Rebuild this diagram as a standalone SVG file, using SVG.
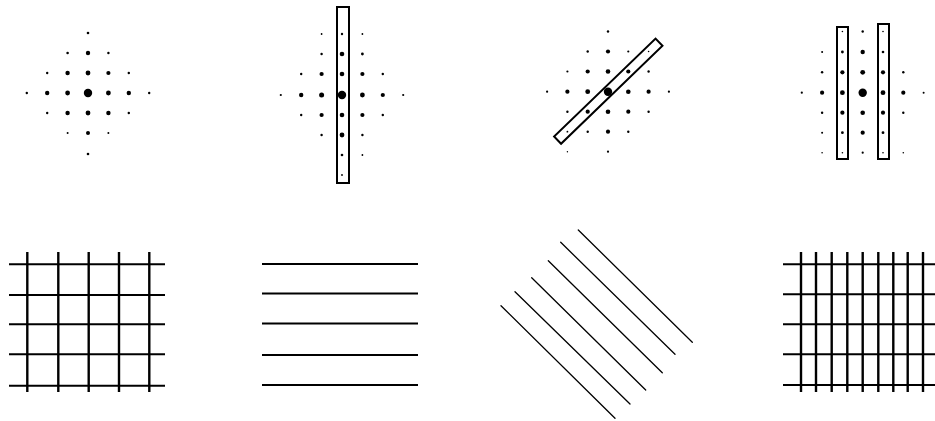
<svg xmlns="http://www.w3.org/2000/svg" width="935" height="421" viewBox="0 0 935 421">
<style>
circle{fill:#000}
.box{fill:none;stroke:#000;stroke-width:2}
.grid line{stroke:#000;stroke-width:2;stroke-linecap:butt}
.grid .v{stroke-width:2.4}
.thin line{stroke:#000;stroke-width:1.8}
.diag line{stroke:#000;stroke-width:1.3;stroke-linecap:round}
</style>
<rect width="935" height="421" fill="#fff"/>
<g id="lattice1">
<circle cx="88" cy="33" r="1.3"/>
<circle cx="67.6" cy="53" r="1.3"/><circle cx="88" cy="53" r="2.2"/><circle cx="108.4" cy="53" r="1.2"/>
<circle cx="47.2" cy="73" r="1.2"/><circle cx="67.6" cy="73" r="2.2"/><circle cx="88" cy="73" r="2.4"/><circle cx="108.4" cy="73" r="2.1"/><circle cx="128.8" cy="73" r="1.2"/>
<circle cx="26.8" cy="93" r="1.2"/><circle cx="47.2" cy="93" r="2.2"/><circle cx="67.6" cy="93" r="2.4"/><circle cx="88" cy="93" r="4.2"/><circle cx="108.4" cy="93" r="2.4"/><circle cx="128.8" cy="93" r="2.2"/><circle cx="149.2" cy="93" r="1.2"/>
<circle cx="47.2" cy="113" r="1.2"/><circle cx="67.6" cy="113" r="2.2"/><circle cx="88" cy="113" r="2.4"/><circle cx="108.4" cy="113" r="2.2"/><circle cx="128.8" cy="113" r="1.2"/>
<circle cx="67.6" cy="133" r="1.0"/><circle cx="88" cy="133" r="2.0"/><circle cx="108.4" cy="133" r="1.0"/>
<circle cx="88" cy="154" r="1.3"/>
</g>
<g id="lattice2">
<circle cx="321.6" cy="34" r="0.9"/><circle cx="342" cy="34" r="1.2"/><circle cx="362.4" cy="34" r="0.9"/>
<circle cx="321.6" cy="54" r="1.2"/><circle cx="342" cy="54" r="2.3"/><circle cx="362.4" cy="54" r="1.4"/>
<circle cx="301.2" cy="74" r="1.2"/><circle cx="321.6" cy="74" r="2.1"/><circle cx="342" cy="74" r="2.3"/><circle cx="362.4" cy="74" r="2.1"/><circle cx="382.8" cy="74" r="1.2"/>
<circle cx="280.8" cy="95" r="1.1"/><circle cx="301.2" cy="95" r="2.2"/><circle cx="321.6" cy="95" r="2.5"/><circle cx="342" cy="95" r="4.2"/><circle cx="362.4" cy="95" r="2.4"/><circle cx="382.8" cy="95" r="2.1"/><circle cx="403.2" cy="95" r="1.1"/>
<circle cx="301.2" cy="115" r="1.2"/><circle cx="321.6" cy="115" r="2.1"/><circle cx="342" cy="115" r="2.3"/><circle cx="362.4" cy="115" r="2.1"/><circle cx="382.8" cy="115" r="1.2"/>
<circle cx="321.6" cy="135" r="1.2"/><circle cx="342" cy="135" r="2.4"/><circle cx="362.4" cy="135" r="1.2"/>
<circle cx="342" cy="155" r="1.3"/><circle cx="362.4" cy="155" r="0.9"/>
<circle cx="342" cy="175" r="0.9"/>
<rect class="box" x="337" y="7" width="12" height="176"/>
</g>
<g id="lattice3">
<circle cx="608" cy="31.5" r="1.2"/>
<circle cx="587.7" cy="51.5" r="1.2"/><circle cx="608" cy="51.5" r="2.1"/><circle cx="628.3" cy="51.5" r="1.1"/><circle cx="648.6" cy="51.5" r="0.8"/>
<circle cx="567.4" cy="71.5" r="1.1"/><circle cx="587.7" cy="71.5" r="2.1"/><circle cx="608" cy="71.5" r="2.3"/><circle cx="628.3" cy="71.5" r="2.1"/><circle cx="648.6" cy="71.5" r="1.2"/>
<circle cx="547.1" cy="91.7" r="1.1"/><circle cx="567.4" cy="91.7" r="2.1"/><circle cx="587.7" cy="91.7" r="2.4"/><circle cx="608" cy="91.7" r="4.2"/><circle cx="628.3" cy="91.7" r="2.3"/><circle cx="648.6" cy="91.7" r="2.1"/><circle cx="668.9" cy="91.7" r="1.1"/>
<circle cx="567.4" cy="111.7" r="1.2"/><circle cx="587.7" cy="111.7" r="2.1"/><circle cx="608" cy="111.7" r="2.3"/><circle cx="628.3" cy="111.7" r="2.1"/><circle cx="648.6" cy="111.7" r="1.2"/>
<circle cx="567.4" cy="131.7" r="0.9"/><circle cx="587.7" cy="131.7" r="1.2"/><circle cx="608" cy="131.7" r="2.1"/><circle cx="628.3" cy="131.7" r="1.2"/>
<circle cx="567.4" cy="151.7" r="0.7"/><circle cx="608" cy="151.7" r="1.1"/>
<rect class="box" x="-70.5" y="-5" width="141" height="10" transform="translate(608.3,91.2) rotate(-44)"/>
</g>
<g id="lattice4">
<circle cx="842.4" cy="31.5" r="0.8"/><circle cx="862.7" cy="31.5" r="1.2"/><circle cx="883" cy="31.5" r="0.8"/>
<circle cx="822.1" cy="52" r="1.0"/><circle cx="842.4" cy="52" r="1.4"/><circle cx="862.7" cy="52" r="2.2"/><circle cx="883" cy="52" r="1.3"/>
<circle cx="822.1" cy="72.3" r="1.2"/><circle cx="842.4" cy="72.3" r="2.1"/><circle cx="862.7" cy="72.3" r="2.4"/><circle cx="883" cy="72.3" r="2.1"/><circle cx="903.3" cy="72.3" r="1.2"/>
<circle cx="801.8" cy="92.7" r="1.1"/><circle cx="822.1" cy="92.7" r="2.1"/><circle cx="842.4" cy="92.7" r="2.4"/><circle cx="862.7" cy="92.7" r="4.2"/><circle cx="883" cy="92.7" r="2.4"/><circle cx="903.3" cy="92.7" r="2.1"/><circle cx="923.6" cy="92.7" r="1.0"/>
<circle cx="822.1" cy="112.7" r="1.2"/><circle cx="842.4" cy="112.7" r="2.1"/><circle cx="862.7" cy="112.7" r="2.3"/><circle cx="883" cy="112.7" r="2.1"/><circle cx="903.3" cy="112.7" r="1.2"/>
<circle cx="822.1" cy="132.7" r="1.0"/><circle cx="842.4" cy="132.7" r="1.4"/><circle cx="862.7" cy="132.7" r="2.1"/><circle cx="883" cy="132.7" r="1.4"/>
<circle cx="822.1" cy="152.7" r="0.8"/><circle cx="842.4" cy="152.7" r="0.8"/><circle cx="862.7" cy="152.7" r="1.1"/><circle cx="883" cy="152.7" r="0.8"/><circle cx="903.3" cy="152.7" r="0.8"/>
<rect class="box" x="837" y="27" width="11" height="132"/>
<rect class="box" x="878" y="24" width="11" height="135"/>
</g>
<g id="grid1" class="grid">
<line class="v" x1="27.3" y1="252" x2="27.3" y2="392"/>
<line class="v" x1="58.3" y1="252" x2="58.3" y2="392"/>
<line class="v" x1="88.7" y1="252" x2="88.7" y2="392"/>
<line class="v" x1="119" y1="252" x2="119" y2="392"/>
<line class="v" x1="149.3" y1="252" x2="149.3" y2="392"/>
<line x1="9" y1="264.3" x2="165" y2="264.3"/>
<line x1="9" y1="295" x2="165" y2="295"/>
<line x1="9" y1="324.3" x2="165" y2="324.3"/>
<line x1="9" y1="354.3" x2="165" y2="354.3"/>
<line x1="9" y1="385.7" x2="165" y2="385.7"/>
</g>
<g id="grid2" class="thin">
<line x1="262" y1="264" x2="418" y2="264"/>
<line x1="262" y1="293.5" x2="418" y2="293.5"/>
<line x1="262" y1="323.5" x2="418" y2="323.5"/>
<line x1="262" y1="355" x2="418" y2="355"/>
<line x1="262" y1="385" x2="418" y2="385" stroke-width="1.5"/>
</g>
<g id="grid3" class="diag">
<line x1="501" y1="305.7" x2="615" y2="418.3"/>
<line x1="515" y1="291.7" x2="630" y2="404"/>
<line x1="531.7" y1="277.7" x2="645.7" y2="390"/>
<line x1="548.3" y1="260.7" x2="662.3" y2="372.7"/>
<line x1="560.7" y1="242.3" x2="675" y2="354.3"/>
<line x1="578.3" y1="230" x2="692.3" y2="342.3"/>
</g>
<g id="grid4" class="grid">
<line class="v" x1="801" y1="252" x2="801" y2="392"/>
<line class="v" x1="816" y1="252" x2="816" y2="392"/>
<line class="v" x1="831.7" y1="252" x2="831.7" y2="392"/>
<line class="v" x1="847.3" y1="252" x2="847.3" y2="392"/>
<line class="v" x1="862.7" y1="252" x2="862.7" y2="392"/>
<line class="v" x1="878.3" y1="252" x2="878.3" y2="392"/>
<line class="v" x1="893.3" y1="252" x2="893.3" y2="392"/>
<line class="v" x1="907.7" y1="252" x2="907.7" y2="392"/>
<line class="v" x1="923" y1="252" x2="923" y2="392"/>
<line x1="783" y1="264.3" x2="935" y2="264.3"/>
<line x1="783" y1="294.3" x2="935" y2="294.3"/>
<line x1="783" y1="324.3" x2="935" y2="324.3"/>
<line x1="783" y1="354.3" x2="935" y2="354.3"/>
<line x1="783" y1="385" x2="935" y2="385"/>
</g>
</svg>
